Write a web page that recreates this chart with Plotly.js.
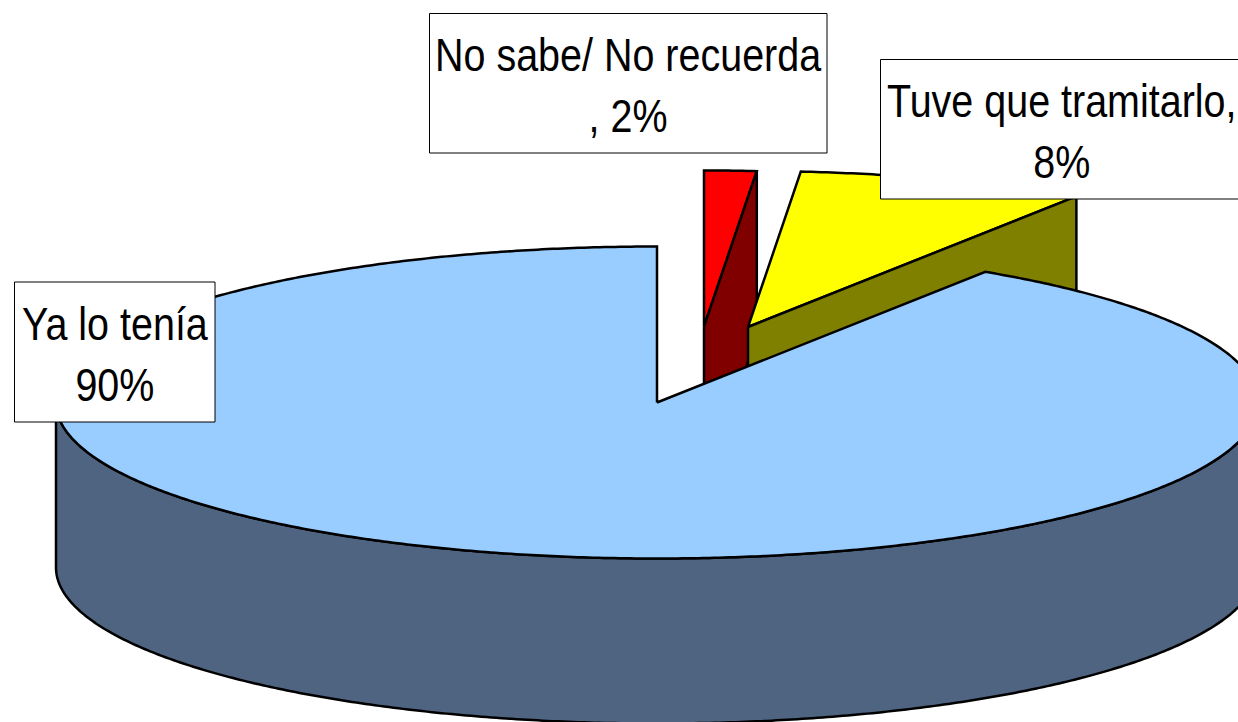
<!DOCTYPE html>
<html>
<head>
<meta charset="utf-8">
<script src="https://cdn.plot.ly/plotly-3.0.1.min.js"></script>
<style>
html,body{margin:0;padding:0;background:#fff;overflow:hidden}
.annotation-text{transform-box:fill-box;transform-origin:center;transform:scaleX(.84)}
</style>
</head>
<body>
<div id="chart" style="width:1238px;height:722px"></div>
<script>
// Slice shares (clockwise from 12 o'clock)
const categories = ["No sabe/ No recuerda", "Tuve que tramitarlo,", "Ya lo tenía"];
const shares = [1.4, 7.8, 90.8];
const labelLines = [["No sabe/ No recuerda", ", 2%"], ["Tuve que tramitarlo,", "8%"], ["Ya lo tenía", "90%"]];
const topColors = ["#FF0000", "#FFFF00", "#99CCFF"];
const sideColors = ["#800000", "#808000", "#4F6480"];

// Pie projection
const RX = 601, RY = 156, DEPTH = 165;
const centers = [[704, 326.5], [748, 327], [657, 402.5]];
const boxes = [[429.5, 13.5, 827, 153], [880.5, 59.5, 1260, 199], [14.5, 282, 215, 422]];
const labelCenters = [[628.5, 85], [1061.5, 131], [115.5, 354]];

function pt(c, deg, dy) {
  const a = deg * Math.PI / 180;
  return [c[0] + RX * Math.sin(a), c[1] - RY * Math.cos(a) + (dy || 0)];
}
function arc(c, a0, a1, dy) {
  const out = [], n = Math.max(2, Math.ceil(Math.abs(a1 - a0) * 2));
  for (let i = 0; i <= n; i++) out.push(pt(c, a0 + (a1 - a0) * i / n, dy));
  return out;
}
function poly(points, color) {
  const closed = points.concat([points[0]]);
  return {
    type: "scatter", mode: "lines", fill: "toself", fillcolor: color,
    x: closed.map(p => p[0]), y: closed.map(p => p[1]),
    line: {color: "#000", width: 2.5, simplify: false},
    hoverinfo: "skip", showlegend: false
  };
}

const traces = [];
let start = 0;
const angles = shares.map(s => { const r = [start, start + s * 3.6]; start = r[1]; return r; });

// Exploded small slices: top face, then the radial wall that faces the viewer
[0, 1].forEach(i => {
  const c = centers[i], [a0, a1] = angles[i];
  traces.push(poly([c].concat(arc(c, a0, a1)), topColors[i]));
  traces.push(poly([c, pt(c, a1), pt(c, a1, DEPTH), [c[0], c[1] + DEPTH]], sideColors[i]));
});
// Main slice: outer wall then top face
const c2 = centers[2], [b0, b1] = angles[2];
traces.push(poly(arc(c2, 90, 270).concat(arc(c2, 270, 90, DEPTH)), sideColors[2]));
traces.push(poly([c2].concat(arc(c2, b0, b1)), topColors[2]));

const FONT = {family: "'Liberation Sans',Arial,sans-serif", size: 47, color: "#000"};

const layout = {
  width: 1238, height: 722,
  margin: {l: 0, r: 0, t: 0, b: 0},
  paper_bgcolor: "#fff", plot_bgcolor: "#fff",
  showlegend: false,
  xaxis: {range: [0, 1238], visible: false, fixedrange: true},
  yaxis: {range: [722, 0], visible: false, fixedrange: true},
  shapes: boxes.map(b => ({
    type: "rect", xref: "x", yref: "y", x0: b[0], y0: b[1], x1: b[2], y1: b[3],
    fillcolor: "#fff", line: {color: "#000", width: 1}, layer: "above"
  })),
  annotations: categories.map((name, i) => ({
    xref: "x", yref: "y", x: labelCenters[i][0], y: labelCenters[i][1],
    xanchor: "center", yanchor: "middle", showarrow: false, align: "center",
    text: labelLines[i].join("<br>"), font: FONT
  }))
};
Plotly.newPlot("chart", traces, layout, {displayModeBar: false, staticPlot: true});
</script>
</body>
</html>
